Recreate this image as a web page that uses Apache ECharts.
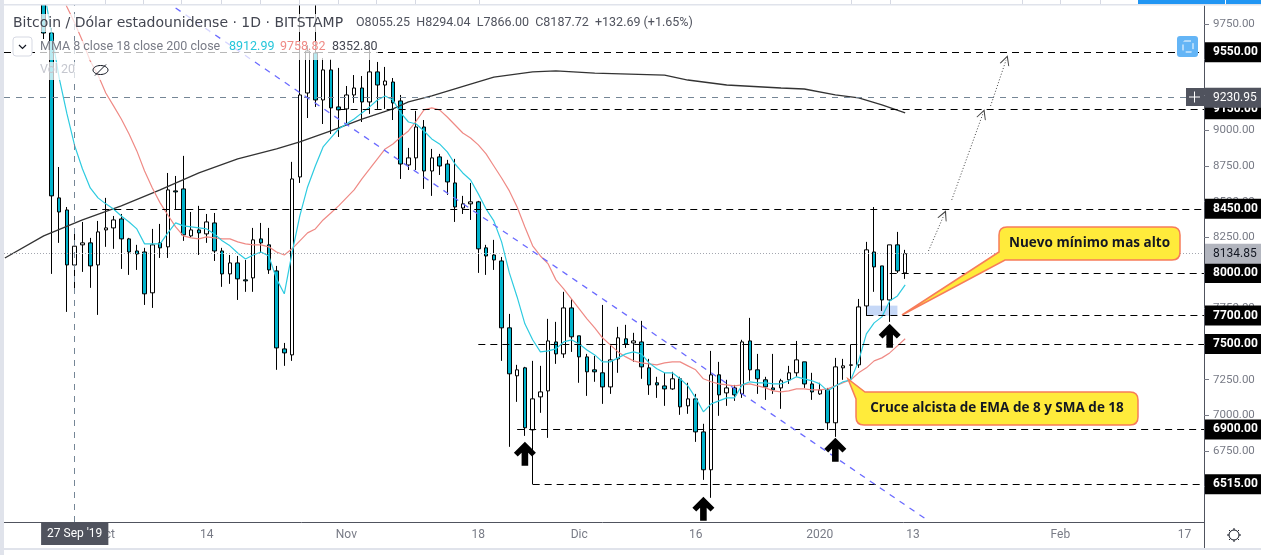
<!DOCTYPE html>
<html>
<head>
<meta charset="utf-8">
<style>
  html, body { margin: 0; padding: 0; background: #fff; }
  #chart { width: 1261px; height: 555px; }
</style>
<script src="https://cdn.jsdelivr.net/npm/echarts@6/dist/echarts.min.js"></script>
</head>
<body>
<div id="chart"></div>
<script>
  // one band per day, 18 Sep 2019 to 19 Feb 2020
  const dates = []
  for (let i = 0; i < 155; i++) {
    dates.push(new Date(Date.UTC(2019, 8, 18 + i)).toISOString().slice(0, 10))
  }

  const xTickDates = ['2019-10-01', '2019-10-14', '2019-11-01', '2019-11-18', '2019-12-01', '2019-12-16', '2020-01-01', '2020-01-13', '2020-02-01', '2020-02-17']
  const xTickLabels = ['Oct', '14', 'Nov', '18', 'Dic', '16', '2020', '13', 'Feb', '17']
  const yTicks = [6500, 6750, 7000, 7250, 7500, 7750, 8000, 8250, 8500, 8750, 9000, 9250, 9500, 9750]

  // candles, first one on this date
  const firstCandle = '2019-09-23'
  const opens = [
    9980, 9685, 8527, 8442, 8055.25, 8197, 8211, 8056, 8302, 8316,
    8379, 8239, 8154, 8147, 7860, 8211, 8183, 8576, 8590, 8260,
    8302, 8274, 8351, 8154, 7993, 8070, 7951, 7965, 8239, 8197,
    8014, 7466, 7424, 8674, 9264, 9545, 9215, 9426, 9166, 9152,
    9250, 9299, 9201, 9412, 9320, 9341, 9208, 8758, 8808, 9025,
    8716, 8815, 8765, 8632, 8456, 8485, 8499, 8176, 8126, 8084,
    7614, 7277, 7333, 6897, 7129, 7171, 7515, 7431, 7754, 7558,
    7410, 7319, 7298, 7199, 7396, 7537, 7508, 7515, 7333, 7228,
    7206, 7185, 7256, 7066, 7115, 6883, 6617, 7284, 7157, 7192,
    7150, 7522, 7319, 7249, 7192, 7192, 7249, 7298, 7375, 7220,
    7150, 7178, 6947, 7333, 7351, 7354, 7768, 8147, 8049, 7810,
    8197, 8000
  ]
  const closes = [
    9685, 8541, 8428, 8056, 8187.72, 8211, 8049, 8288, 8316, 8372,
    8239, 8147, 8133, 7853, 8197, 8176, 8583, 8569, 8267, 8302,
    8281, 8358, 8154, 7993, 8070, 7958, 7944, 8232, 8211, 8021,
    7473, 7438, 8660, 9250, 9559, 9215, 9426, 9159, 9145, 9250,
    9299, 9201, 9412, 9320, 9348, 9194, 8765, 8808, 9025, 8716,
    8808, 8751, 8639, 8463, 8485, 8499, 8169, 8119, 8091, 7614,
    7291, 7319, 6912, 7115, 7164, 7522, 7431, 7754, 7551, 7410,
    7305, 7305, 7199, 7389, 7544, 7501, 7522, 7340, 7213, 7213,
    7185, 7256, 7059, 7115, 6883, 6617, 7284, 7143, 7192, 7143,
    7515, 7319, 7256, 7199, 7178, 7242, 7298, 7389, 7220, 7164,
    7178, 6947, 7340, 7347, 7354, 7761, 8162, 8042, 7810, 8197,
    8014, 8134.85
  ]
  const lows = [
    9643, 7993, 8211, 7726, 7866, 8007, 7895, 7705, 8183, 8169,
    8028, 7986, 8021, 7775, 7754, 8105, 8105, 8449, 8225, 8246,
    8126, 8211, 8084, 7902, 7923, 7810, 7867, 7867, 8140, 7993,
    7319, 7347, 7382, 8632, 9088, 9166, 9046, 8976, 8955, 9053,
    9194, 9060, 9117, 9152, 9152, 9074, 8660, 8723, 8723, 8590,
    8541, 8688, 8548, 8358, 8414, 8372, 8000, 7986, 8021, 7382,
    6778, 7094, 6855, 6515, 7017, 6841, 7361, 7403, 7445, 7228,
    7136, 7235, 7080, 7150, 7298, 7473, 7375, 7256, 7143, 7122,
    7066, 7178, 7003, 7010, 6813, 6546, 6420, 6996, 7066, 7101,
    7122, 7242, 7150, 7108, 7150, 7045, 7220, 7270, 7192, 7108,
    7143, 6897, 6848, 7249, 7256, 7333, 7698, 7867, 7733, 7656,
    8000, 7958
  ]
  const highs = [
    10020, 9720, 8744, 8463, 8294.04, 8358, 8246, 8365, 8527, 8400,
    8414, 8246, 8197, 8176, 8309, 8344, 8702, 8681, 8822, 8428,
    8471, 8414, 8421, 8176, 8126, 8119, 8091, 8316, 8351, 8316,
    8049, 7508, 8780, 10300, 9600, 9950, 9510, 9503, 9440, 9313,
    9390, 9383, 9615, 9482, 9447, 9369, 9250, 8878, 9138, 9074,
    8871, 8836, 8794, 8801, 8541, 8632, 8506, 8197, 8232, 8112,
    7712, 7354, 7340, 7382, 7347, 7677, 7656, 7867, 7817, 7558,
    7431, 7417, 7775, 7501, 7621, 7635, 7579, 7663, 7396, 7270,
    7298, 7305, 7270, 7228, 7150, 6940, 7452, 7375, 7249, 7213,
    7530, 7684, 7431, 7270, 7431, 7256, 7347, 7522, 7375, 7298,
    7228, 7192, 7403, 7396, 7494, 7817, 8218, 8463, 8049, 8197,
    8288, 8162
  ]

  // moving averages
  const ema8 = [
    10000, 9685, 9369, 9117, 8892, 8730, 8597, 8527, 8485, 8449,
    8400, 8358, 8309, 8204, 8204, 8204, 8281, 8351, 8330, 8323,
    8316, 8309, 8274, 8225, 8190, 8140, 8098, 8126, 8147, 8119,
    7958, 7853, 8140, 8400, 8604, 8751, 8885, 8948, 9011, 9046,
    9081, 9124, 9166, 9215, 9243, 9215, 9124, 9060, 9046, 8997,
    8941, 8906, 8850, 8765, 8702, 8653, 8555, 8449, 8365, 8218,
    8000, 7831, 7642, 7530, 7445, 7452, 7466, 7515, 7530, 7501,
    7459, 7424, 7375, 7375, 7403, 7431, 7445, 7431, 7368, 7326,
    7298, 7298, 7256, 7206, 7122, 7024, 7080, 7101, 7122, 7122,
    7213, 7235, 7228, 7228, 7220, 7220, 7242, 7270, 7256, 7242,
    7220, 7171, 7206, 7235, 7249, 7382, 7572, 7649, 7691, 7803,
    7838, 7916
  ]
  const firstSma18 = '2019-09-25'
  const sma18 = [
    9994, 9868, 9756, 9629, 9489, 9390, 9264, 9173,
    9081, 8976, 8857, 8716, 8597, 8492, 8407, 8323, 8260, 8246,
    8239, 8253, 8246, 8239, 8239, 8218, 8204, 8197, 8197, 8183,
    8147, 8126, 8169, 8225, 8281, 8309, 8372, 8421, 8471, 8527,
    8583, 8660, 8730, 8801, 8871, 8906, 8955, 8997, 9067, 9145,
    9159, 9145, 9095, 9039, 8983, 8948, 8899, 8836, 8751, 8667,
    8576, 8463, 8323, 8190, 8119, 8063, 7951, 7888, 7817, 7747,
    7677, 7614, 7544, 7494, 7445, 7410, 7382, 7368, 7361, 7354,
    7368, 7375, 7375, 7347, 7319, 7256, 7235, 7220, 7213, 7206,
    7213, 7220, 7206, 7192, 7171, 7164, 7171, 7185, 7185, 7178,
    7178, 7185, 7206, 7228, 7249, 7298, 7333, 7382, 7403, 7438,
    7487, 7537
  ]
  // the 200 day curve is smooth, only read where it bends
  const sma200Dates = ['2019-09-18', '2019-09-23', '2019-09-28', '2019-10-03', '2019-10-08', '2019-10-13', '2019-10-18', '2019-10-23', '2019-10-26', '2019-10-30', '2019-11-03', '2019-11-07', '2019-11-09', '2019-11-12', '2019-11-17', '2019-11-20', '2019-11-25', '2019-11-28', '2019-12-03', '2019-12-12', '2019-12-15', '2019-12-20', '2019-12-27', '2019-12-30', '2020-01-03', '2020-01-06', '2020-01-09', '2020-01-12']
  const sma200 = [8105, 8260, 8372, 8471, 8583, 8702, 8801, 8871, 8920, 8997, 9081, 9152, 9201, 9243, 9327, 9376, 9412, 9419, 9404, 9390, 9355, 9320, 9299, 9292, 9250, 9229, 9180, 9124]

  // price levels drawn on the chart, with the day each dashed line starts
  const levelPrices = [9550, 9150, 8450, 8000, 7700, 7500, 6900, 6515]
  const levelStarts = ['2019-09-18', '2019-10-31', '2019-09-29', '2020-01-10', '2020-01-07', '2019-11-18', '2019-11-23', '2019-11-25']
  const lastPrice = 8134.85
  const crossPrice = 9230.95
  const crossDate = '2019-09-27'

  const arrowDates = ['2019-11-24', '2019-12-17', '2020-01-03', '2020-01-10']
  const arrowPrices = [6729, 6343, 6757, 7558]

  // trend line and the projected dotted path: [from date, from price, to date, to price]
  const trendLine = ['2019-10-10', 9861, '2020-01-15', 6258]
  const dottedPaths = [
    ['2020-01-15', 8154, '2020-01-17', 8407],
    ['2020-01-18', 8513, '2020-01-22', 9117],
    ['2020-01-23', 9173, '2020-01-25', 9496]
  ]
  const zoneDates = ['2020-01-07', '2020-01-11']
  const zonePrices = [7770, 7700]

  const ARROW = 'path://M10 0 L20 10 L16.5 13.5 L13 10 L13 22 L7 22 L7 10 L3.5 13.5 L0 10 Z'
  const OPEN_ARROW = 'path://M0 10 L5 0 L10 10 L9 10 L5 2.5 L1 10 Z'
  const GREY = '#787b86'
  const DARK = '#50535e'
  const FONT = 'Roboto, sans-serif'

  function pad(list, first) {
    const start = dates.indexOf(first)
    return dates.map((d, i) => (i >= start && i - start < list.length ? list[i - start] : null))
  }

  const candleStart = dates.indexOf(firstCandle)
  const candleData = dates.map((d, i) => {
    const k = i - candleStart
    return k >= 0 && k < opens.length ? [opens[k], closes[k], lows[k], highs[k]] : ['-', '-', '-', '-']
  })

  const sma200Data = dates.map(d => {
    const k = sma200Dates.indexOf(d)
    return k < 0 ? null : sma200[k]
  })

  function priceTag(text, bg, color, weight) {
    return {
      show: true,
      position: 'end',
      distance: 1,
      formatter: text,
      color: color,
      backgroundColor: bg,
      fontFamily: FONT,
      fontSize: 12,
      fontWeight: weight,
      padding: [4, 6, 4, 8],
      width: 42
    }
  }

  function fullLine(price, startProps, lineStyle, label) {
    return [
      Object.assign({yAxis: price, lineStyle: lineStyle, label: label}, startProps),
      {x: 1204, xAxis: dates[dates.length - 1], yAxis: price}
    ]
  }

  const levelLines = levelPrices.map((p, i) => fullLine(
    p,
    i === 0 ? {x: 4, xAxis: levelStarts[i]} : {xAxis: levelStarts[i]},
    {color: '#000', width: 1.2, type: [7, 5]},
    priceTag(p.toFixed(2), '#000', '#fff', 'bold')
  ))

  const helperLines = [
    fullLine(lastPrice, {x: 4, xAxis: dates[0]}, {color: '#a3a6af', width: 1, type: [1, 2]}, priceTag(lastPrice.toFixed(2), '#b2b5be', '#131722', 'normal')),
    fullLine(crossPrice, {x: 4, xAxis: dates[0]}, {color: '#758696', width: 1, type: [6, 6]}, priceTag(crossPrice.toFixed(2), DARK, '#fff', 'normal')),
    [
      {
        xAxis: crossDate,
        y: 522,
        lineStyle: {color: '#758696', width: 1, type: [6, 6]},
        label: {
          show: true,
          position: 'start',
          distance: 0,
          formatter: "27 Sep '19",
          color: '#fff',
          backgroundColor: DARK,
          fontFamily: FONT,
          fontSize: 12,
          padding: [6, 6, 5, 6]
        }
      },
      {xAxis: crossDate, y: 5}
    ],
    [
      {xAxis: trendLine[0], yAxis: trendLine[1], lineStyle: {color: '#6a6aff', width: 1.3, type: [6, 6]}, label: {show: false}},
      {xAxis: trendLine[2], yAxis: trendLine[3]}
    ]
  ]

  const dottedLines = dottedPaths.map(p => [
    {xAxis: p[0], yAxis: p[1], symbol: 'none', lineStyle: {color: '#444', width: 1, type: [1, 2]}, label: {show: false}},
    {xAxis: p[2], yAxis: p[3], symbol: OPEN_ARROW, symbolSize: 10}
  ])

  // speech bubbles, graphic has no generic path type so register one
  echarts.graphic.registerShape('callout', echarts.graphic.extendShape({
    shape: {segs: []},
    buildPath(ctx, shape) {
      shape.segs.forEach(s => {
        if (s[0] === 'M') ctx.moveTo(s[1], s[2])
        else if (s[0] === 'L') ctx.lineTo(s[1], s[2])
        else ctx.quadraticCurveTo(s[1], s[2], s[3], s[4])
      })
      ctx.closePath()
    }
  }))

  function box(x, y, w, h, fill, extra) {
    return Object.assign({type: 'rect', silent: true, z: 60, shape: {x: x, y: y, width: w, height: h}, style: {fill: fill}}, extra)
  }

  function label(x, y, text, fill, font, extra) {
    return {
      type: 'text',
      silent: true,
      z: 70,
      style: Object.assign({x: x, y: y, text: text, fill: fill, font: font, textVerticalAlign: 'middle'}, extra)
    }
  }

  function stroke(x1, y1, x2, y2, color, width) {
    return {
      type: 'line',
      silent: true,
      z: 70,
      shape: {x1: x1, y1: y1, x2: x2, y2: y2},
      style: {stroke: color, lineWidth: width}
    }
  }

  function callout(segs) {
    return {
      type: 'callout',
      silent: true,
      z: 60,
      shape: {segs: segs},
      style: {fill: '#ffeb3b', stroke: '#f77c5a', lineWidth: 1.5}
    }
  }

  const topStripSeps = [105, 143, 181, 221, 260, 299, 338, 376, 415, 479, 851, 890, 1022, 1060, 1100]

  const gearTicks = []
  for (let a = 0; a < 8; a++) {
    const c = Math.cos(a * Math.PI / 4)
    const s = Math.sin(a * Math.PI / 4)
    gearTicks.push(stroke(1234 + 5 * c, 535 + 5 * s, 1234 + 7 * c, 535 + 7 * s, '#131722', 1))
  }

  const overlays = [
    // frame round the chart
    box(0, 0, 4, 555, '#e0e3eb'),
    box(0, 4, 1261, 1.5, '#e0e3eb'),
    box(4, 0, 1257, 4, '#fff'),
    box(1138, 0, 87, 4, '#2196f3'),
    box(1226, 0, 35, 4, '#2196f3'),
    box(0, 548, 1261, 2, '#e0e3eb')
  ].concat(topStripSeps.map(x => box(x, 0, 1, 4, '#d6d9e3')), [
    stroke(1204.5, 522, 1204.5, 548, DARK, 1),

    // legend area, see through like the original
    box(12, 14, 336, 18, 'rgba(255,255,255,0.72)'),
    box(354, 14, 342, 18, 'rgba(255,255,255,0.72)'),
    box(38, 41, 340, 19, 'rgba(255,255,255,0.72)'),
    box(38, 62, 78, 18, 'rgba(255,255,255,0.72)'),
    label(13, 23, 'Bitcoin / Dólar estadounidense · 1D · BITSTAMP', '#434651', '14px "DejaVu Sans", sans-serif'),
    label(356, 23, 'O8055.25  H8294.04  L7866.00  C8187.72  +132.69 (+1.65%)', '#50535e', '12.5px ' + FONT),
    box(13, 37, 19, 19, '#fff', {shape: {x: 13, y: 37, width: 19, height: 19, r: 3}, style: {fill: '#fff', stroke: '#d6d9e3', lineWidth: 1}}),
    {type: 'polyline', silent: true, z: 70, shape: {points: [[19, 45], [22.5, 48.5], [26, 45]]}, style: {stroke: '#131722', lineWidth: 1.2, fill: 'none'}},
    label(40, 47, 'MMA 8 close 18 close 200 close', '#787b86', '12.5px ' + FONT),
    label(229, 47, '8912.99', '#26c6da', '12.5px ' + FONT),
    label(280, 47, '9758.82', '#ef8a85', '12.5px ' + FONT),
    label(332, 47, '8352.80', '#434651', '12.5px ' + FONT),
    label(40, 70, 'Vol 20', '#c5c7cf', '12.5px ' + FONT),
    {type: 'ellipse', silent: true, z: 70, shape: {cx: 100.5, cy: 70, rx: 7.5, ry: 4.5}, style: {fill: 'none', stroke: '#131722', lineWidth: 1}},
    stroke(95, 75.5, 106, 64.5, '#131722', 1),

    // callouts
    callout([['M', 1007, 227], ['L', 1172, 227], ['Q', 1180, 227, 1180, 235], ['L', 1180, 252], ['Q', 1180, 260, 1172, 260], ['L', 1005, 260], ['L', 902, 315], ['L', 999, 252], ['L', 999, 235], ['Q', 999, 227, 1007, 227]]),
    callout([['M', 865, 392], ['L', 1130, 392], ['Q', 1138, 392, 1138, 400], ['L', 1138, 417], ['Q', 1138, 425, 1130, 425], ['L', 864, 425], ['Q', 856, 425, 856, 417], ['L', 856, 399], ['L', 848, 379]]),
    label(1089.5, 243, 'Nuevo mínimo mas alto', '#131722', 'bold 13.5px "Open Sans", sans-serif', {textAlign: 'center'}),
    label(997, 408, 'Cruce alcista de EMA de 8 y SMA de 18', '#131722', 'bold 13.5px "Open Sans", sans-serif', {textAlign: 'center'}),

    // buttons
    box(1177, 36, 21, 21, '#64b5f6', {shape: {x: 1177, y: 36, width: 21, height: 21, r: 3}}),
    {type: 'rect', silent: true, z: 70, shape: {x: 1183, y: 41, width: 10, height: 11, r: 2}, style: {fill: 'none', stroke: '#fff', lineWidth: 1, lineDash: [6, 3]}},
    box(1186, 88, 18, 18, DARK),
    stroke(1189, 97, 1200, 97, '#fff', 1),
    stroke(1194.5, 91.5, 1194.5, 102.5, '#fff', 1),
    {type: 'circle', silent: true, z: 70, shape: {cx: 1234, cy: 535, r: 5}, style: {fill: 'none', stroke: '#131722', lineWidth: 1}}
  ], gearTicks)

  const chart = echarts.init(document.getElementById('chart'), null, {renderer: 'canvas'})

  chart.setOption({
    animation: false,
    backgroundColor: '#fff',
    grid: {left: 1, top: 6, width: 1203, height: 516},
    xAxis: {
      type: 'category',
      data: dates,
      boundaryGap: true,
      axisLine: {lineStyle: {color: DARK}},
      axisTick: {
        alignWithLabel: true,
        length: 4,
        lineStyle: {color: DARK},
        interval: (i, d) => xTickDates.includes(d)
      },
      axisLabel: {
        interval: (i, d) => xTickDates.includes(d),
        formatter: d => xTickLabels[xTickDates.indexOf(d)],
        color: GREY,
        fontFamily: FONT,
        fontSize: 12,
        margin: 7,
        hideOverlap: false
      },
      splitLine: {show: false}
    },
    yAxis: {
      type: 'value',
      position: 'right',
      min: 6250,
      max: 9875,
      interval: 250,
      scale: true,
      axisLine: {show: true, lineStyle: {color: DARK}},
      axisTick: {show: true, length: 5, lineStyle: {color: GREY}, customValues: yTicks},
      axisLabel: {
        customValues: yTicks,
        formatter: v => v.toFixed(2),
        color: GREY,
        fontFamily: FONT,
        fontSize: 11.5,
        margin: 9
      },
      splitLine: {show: false}
    },
    series: [
      {
        name: 'levels',
        type: 'line',
        data: [],
        z: 1,
        silent: true,
        markArea: {
          silent: true,
          itemStyle: {color: '#c6d8f7'},
          data: [[
            {xAxis: zoneDates[0], yAxis: zonePrices[0]},
            {xAxis: zoneDates[1], yAxis: zonePrices[1]}
          ]]
        },
        markLine: {
          silent: true,
          symbol: 'none',
          animation: false,
          data: levelLines.concat(helperLines, dottedLines)
        }
      },
      {
        name: 'BTCUSD',
        type: 'candlestick',
        data: candleData,
        barWidth: 4,
        z: 3,
        itemStyle: {
          color: '#fff',
          color0: '#00b3cc',
          borderColor: '#000',
          borderColor0: '#000',
          borderWidth: 1
        },
        markPoint: {
          silent: true,
          symbol: ARROW,
          symbolSize: [22, 24],
          itemStyle: {color: '#000', borderWidth: 0},
          label: {show: false},
          data: arrowDates.map((d, i) => ({coord: [d, arrowPrices[i]]}))
        }
      },
      {
        name: 'SMA 200',
        type: 'line',
        data: sma200Data,
        connectNulls: true,
        showSymbol: false,
        silent: true,
        z: 4,
        lineStyle: {color: '#333', width: 1.3}
      },
      {
        name: 'SMA 18',
        type: 'line',
        data: pad(sma18, firstSma18),
        showSymbol: false,
        silent: true,
        z: 4,
        lineStyle: {color: '#ef8a85', width: 1.2}
      },
      {
        name: 'EMA 8',
        type: 'line',
        data: pad(ema8, firstCandle),
        showSymbol: false,
        silent: true,
        z: 4,
        lineStyle: {color: '#2ecbe0', width: 1.2}
      }
    ],
    graphic: {elements: overlays}
  })
</script>
</body>
</html>
